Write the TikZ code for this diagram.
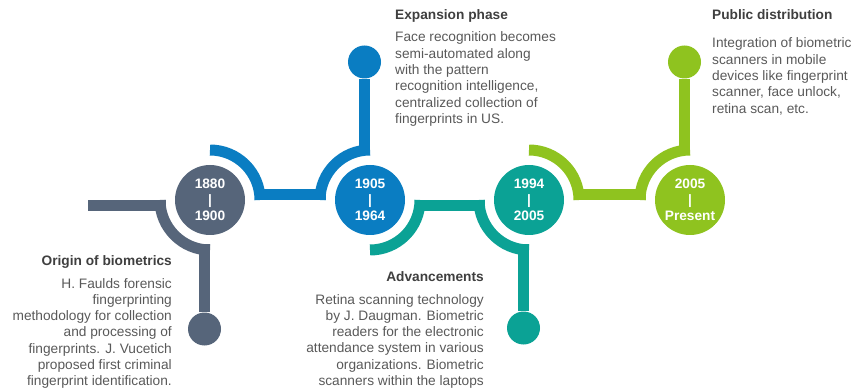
\documentclass[tikz,border=0pt]{standalone}
\usepackage{fontspec}
\setmainfont{Liberation Sans}
\usepackage{tikz}

\definecolor{cslate}{HTML}{56657A}
\definecolor{cblue}{HTML}{0A7DC2}
\definecolor{cteal}{HTML}{0BA295}
\definecolor{cgreen}{HTML}{8FC31F}
\definecolor{ctitle}{HTML}{3F3F3F}
\definecolor{cbody}{HTML}{595959}

\begin{document}
\begin{tikzpicture}[x=1pt,y=1pt,
   year/.style={circle,minimum size=70pt,inner sep=0pt,text=white,align=center,
      font=\fontsize{13.7}{16}\selectfont\bfseries},
   knob/.style={circle,minimum size=33pt,inner sep=0pt},
   band/.style={line width=11pt},
   head/.style={inner sep=0pt,text=ctitle,font=\fontsize{13.7}{16.3}\selectfont\bfseries},
   body/.style={inner sep=0pt,text=cbody,font=\fontsize{13.7}{16.3}\selectfont}]
   \useasboundingbox (0,0) rectangle (853,391);

   %knobs at the end of each band
   \node[knob,fill=cslate] (k1880) at (204.5,62) {};
   \node[knob,fill=cblue] (k1905) at (364.5,329) {};
   \node[knob,fill=cteal] (k1994) at (523.5,63) {};
   \node[knob,fill=cgreen] (k2005) at (684.5,329) {};

   %origin band
   \coordinate (gin) at (88,185.5);
   \coordinate (gdown) at (204.5,146.5);
   \draw[band,cslate] (gin) -- (165.5,185.5);
   \draw[band,cslate] (160,191) arc[start angle=180,end angle=270,radius=50pt];
   \draw[band,cslate] (gdown) -- (k1880);

   %expansion band
   \coordinate (bup) at (364.5,235.5);
   \draw[band,cblue] (210,241) arc[start angle=90,end angle=0,radius=50pt];
   \draw[band,cblue] (254.5,196.5) -- (325.5,196.5);
   \draw[band,cblue] (320,191) arc[start angle=180,end angle=90,radius=50pt];
   \draw[band,cblue] (bup) -- (k1905);

   %advancements band
   \coordinate (tdown) at (523.5,146.5);
   \draw[band,cteal] (370,141) arc[start angle=270,end angle=360,radius=50pt];
   \draw[band,cteal] (414.5,185.5) -- (484.5,185.5);
   \draw[band,cteal] (479,191) arc[start angle=180,end angle=270,radius=50pt];
   \draw[band,cteal] (tdown) -- (k1994);

   %public band
   \coordinate (rup) at (684.5,235.5);
   \draw[band,cgreen] (529,241) arc[start angle=90,end angle=0,radius=50pt];
   \draw[band,cgreen] (573.5,196.5) -- (645.5,196.5);
   \draw[band,cgreen] (640,191) arc[start angle=180,end angle=90,radius=50pt];
   \draw[band,cgreen] (rup) -- (k2005);

   %year circles
   \node[year,fill=cslate] (y1880) at (210,191) {1880\\|\\1900};
   \node[year,fill=cblue] (y1905) at (370,191) {1905\\|\\1964};
   \node[year,fill=cteal] (y1994) at (529,191) {1994\\|\\2005};
   \node[year,fill=cgreen] (y2005) at (690,191) {2005\\|\\Present};

   %texts (base of a body node is its last line)
   \node[head,anchor=base east] (h1880) at (172,125) {Origin of biometrics};
   \node[body,anchor=base east,align=right] (d1880) at (172,5.2) {H. Faulds forensic\\fingerprinting\\methodology for collection\\and processing of\\fingerprints. J. Vucetich\\proposed first criminal\\fingerprint identification.};

   \node[head,anchor=base west] (h1905) at (395,371) {Expansion phase};
   \node[body,anchor=base west,align=left] (d1905) at (395,267.5) {Face recognition becomes\\semi-automated along\\with the pattern\\recognition intelligence,\\centralized collection of\\fingerprints in US.};

   \node[head,anchor=base east] (h1994) at (484,110) {Advancements};
   \node[body,anchor=base east,align=right] (d1994) at (484,5.5) {Retina scanning technology\\by J. Daugman. Biometric\\readers for the electronic\\attendance system in various\\organizations. Biometric\\scanners within the laptops};

   \node[head,anchor=base west] (h2005) at (712,371) {Public distribution};
   \node[body,anchor=base west,align=left] (d2005) at (712,277.8) {Integration of biometric\\scanners in mobile\\devices like fingerprint\\scanner, face unlock,\\retina scan, etc.};
\end{tikzpicture}
\end{document}
